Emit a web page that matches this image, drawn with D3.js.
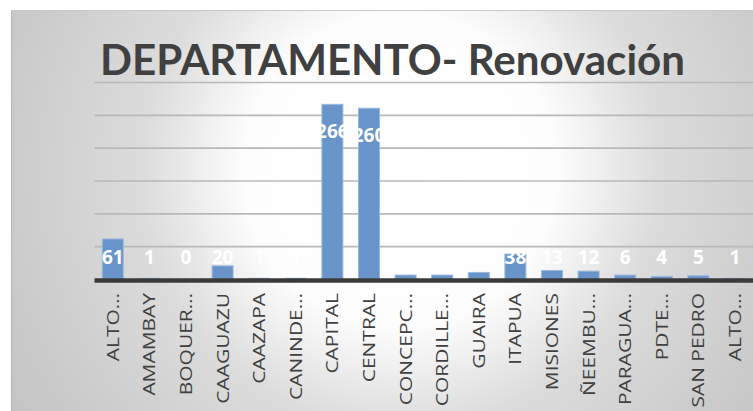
<!DOCTYPE html>
<html>
<head>
<meta charset="utf-8">
<script src="https://cdn.jsdelivr.net/npm/d3@7"></script>
<style>
  html, body { margin: 0; padding: 0; background: #ffffff; }
  svg { display: block; }
</style>
</head>
<body>
<svg id="chart" width="753" height="411"></svg>
<script>
// Departamentos (orden del eje)
const categories = [
  "ALTO PARANA", "AMAMBAY", "BOQUERON", "CAAGUAZU", "CAAZAPA", "CANINDEYU",
  "CAPITAL", "CENTRAL", "CONCEPCION", "CORDILLERA", "GUAIRA", "ITAPUA",
  "MISIONES", "ÑEEMBUCU", "PARAGUARI", "PDTE. HAYES", "SAN PEDRO", "ALTO PARAGUAY"
];
// Etiquetas tal como se muestran (recortadas)
const tickLabels = [
  "ALTO…", "AMAMBAY", "BOQUER…", "CAAGUAZU", "CAAZAPA", "CANINDE…",
  "CAPITAL", "CENTRAL", "CONCEPC…", "CORDILLE…", "GUAIRA", "ITAPUA",
  "MISIONES", "ÑEEMBU…", "PARAGUA…", "PDTE…", "SAN PEDRO", "ALTO…"
];
// Renovaciones por departamento
const renovaciones = [61, 1, 0, 20, 1, 1, 266, 260, 6, 6, 10, 38, 13, 12, 6, 4, 5, 1];
const yTicks = [0, 50, 100, 150, 200, 250, 300];
const titleText = "DEPARTAMENTO- Renovación";

const svg = d3.select("#chart");
const W = 753, H = 411;

// Fondo del panel: degradado radial claro en el centro
const defs = svg.append("defs");
const grad = defs.append("radialGradient")
  .attr("id", "bg")
  .attr("gradientUnits", "userSpaceOnUse")
  .attr("cx", 400).attr("cy", 170).attr("r", 460);
[[0, "#ffffff"], [0.34, "#fdfdfd"], [0.44, "#eeeeee"], [0.56, "#dcdcdc"], [0.85, "#cbcbcb"], [1, "#c4c4c4"]]
  .forEach(([o, c]) => grad.append("stop").attr("offset", o).attr("stop-color", c));

svg.append("rect").attr("x", 0).attr("y", 0).attr("width", W).attr("height", H).attr("fill", "#ffffff");
svg.append("rect").attr("x", 11).attr("y", 10).attr("width", W - 11).attr("height", H - 10).attr("fill", "url(#bg)");
svg.append("line").attr("x1", 11.5).attr("x2", 11.5).attr("y1", 10).attr("y2", H)
  .attr("stroke", "#b4b4b4").attr("stroke-width", 1);
svg.append("line").attr("x1", 11).attr("x2", W).attr("y1", 10.5).attr("y2", 10.5)
  .attr("stroke", "#c9c9c9").attr("stroke-width", 1);

// Escalas
const x = d3.scaleBand()
  .domain(categories)
  .range([94.5, 753.3])
  .paddingInner(0.426)
  .paddingOuter(0.213);
const y = d3.scaleLinear().domain([0, 300]).range([279, 82]);

// Líneas de cuadrícula
const grid = svg.append("g")
  .attr("transform", `translate(${x.range()[0]},0)`)
  .call(d3.axisLeft(y).tickValues(yTicks.slice(1)).tickSize(-(W - x.range()[0])).tickFormat(""));
grid.select(".domain").remove();
grid.selectAll(".tick line").attr("stroke", "#b9b9b9").attr("stroke-width", 1.6);

// Título
svg.append("text")
  .attr("x", 392.5)
  .attr("y", 75)
  .attr("text-anchor", "middle")
  .attr("font-family", "Lato, 'Open Sans', sans-serif")
  .attr("font-weight", "bold")
  .attr("font-size", 42)
  .attr("fill", "#404040")
  .attr("textLength", 585)
  .attr("lengthAdjust", "spacingAndGlyphs")
  .text(titleText);

// Barras
svg.append("g").selectAll("rect")
  .data(renovaciones)
  .join("rect")
  .attr("x", (d, i) => x(categories[i]))
  .attr("width", x.bandwidth())
  .attr("y", d => y(d))
  .attr("height", d => y(0) - y(d))
  .attr("fill", "#6894c9")
  .attr("stroke", "#9ab8de")
  .attr("stroke-width", 1);

// Eje X
const xAxis = svg.append("g")
  .attr("transform", `translate(0,${y(0)})`)
  .call(d3.axisBottom(x).tickSize(0).tickFormat((d, i) => tickLabels[i]));
xAxis.select(".domain").remove();
svg.append("line")
  .attr("x1", x.range()[0]).attr("x2", W)
  .attr("y1", y(0) + 1.5).attr("y2", y(0) + 1.5)
  .attr("stroke", "#3a3a3a").attr("stroke-width", 4.5);

xAxis.selectAll(".tick text")
  .attr("font-family", "'Open Sans', sans-serif")
  .attr("font-size", 16.5)
  .attr("fill", "#404040")
  .attr("text-anchor", "end")
  .attr("x", 0).attr("y", 0).attr("dy", "0.36em")
  .attr("transform", "translate(0,14) rotate(-90) scale(1.27,1)");

// Etiquetas de datos
const yLabelFloor = y(34);
svg.append("g").selectAll("text")
  .data(renovaciones)
  .join("text")
  .attr("x", (d, i) => x(categories[i]) + x.bandwidth() / 2)
  .attr("y", d => Math.min(y(d) + 27, yLabelFloor))
  .attr("dy", "0.36em")
  .attr("text-anchor", "middle")
  .attr("font-family", "'Open Sans', sans-serif")
  .attr("font-weight", "bold")
  .attr("font-size", 19)
  .attr("fill", "#ffffff")
  .text(d => d);
</script>
</body>
</html>
